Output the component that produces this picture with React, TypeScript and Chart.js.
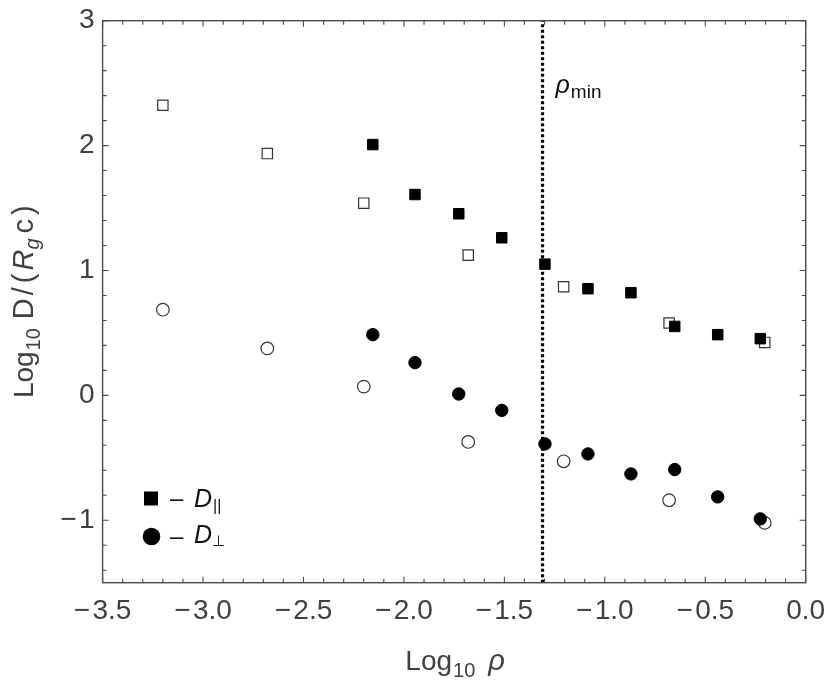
import React, { useEffect, useRef } from "react";
import { Chart, registerables } from "chart.js";

Chart.register(...registerables);

// ---- data ----
const X_MIN = -3.5;
const X_MAX = 0;
const Y_MIN = -1.5;
const Y_MAX = 3;
const X_TICKS = [-3.5, -3.0, -2.5, -2.0, -1.5, -1.0, -0.5, 0.0];
const Y_TICKS = [-1, 0, 1, 2, 3];
const X_MINOR_STEP = 0.1;
const Y_MINOR_STEP = 0.2;

// open markers
const OPEN_RHO = [-3.2, -2.68, -2.2, -1.68, -1.205, -0.68, -0.204];
const OPEN_PAR = [2.323, 1.936, 1.539, 1.123, 0.87, 0.579, 0.424];
const OPEN_PERP = [0.686, 0.376, 0.07, -0.373, -0.528, -0.84, -1.021];

// filled markers
const FILLED_RHO = [-2.155, -1.945, -1.727, -1.513, -1.298, -1.084, -0.87, -0.652, -0.438, -0.226];
const FILLED_PAR = [2.008, 1.608, 1.454, 1.262, 1.051, 0.854, 0.822, 0.552, 0.486, 0.454];
const FILLED_PERP = [0.486, 0.262, 0.011, -0.12, -0.389, -0.469, -0.629, -0.594, -0.813, -0.989];

const RHO_MIN = -1.31;

const FONT = "'Liberation Sans', Arial, Helvetica, sans-serif";
const TEXT = "#404040";
const FRAME = "#4a4a4a";

type Run = { t: string; size: number; italic?: boolean; dy?: number; dx?: number };

function fontOf(r: Run) {
  return `${r.italic ? "italic " : ""}${r.size}px ${FONT}`;
}
function runsWidth(ctx: CanvasRenderingContext2D, runs: Run[]) {
  let w = 0;
  for (const r of runs) {
    ctx.font = fontOf(r);
    w += ctx.measureText(r.t).width + (r.dx || 0);
  }
  return w;
}
function drawRuns(ctx: CanvasRenderingContext2D, runs: Run[], x: number, y: number, center: boolean) {
  let cx = center ? x - runsWidth(ctx, runs) / 2 : x;
  ctx.textAlign = "left";
  ctx.textBaseline = "alphabetic";
  for (const r of runs) {
    ctx.font = fontOf(r);
    cx += r.dx || 0;
    ctx.fillText(r.t, cx, y + (r.dy || 0));
    cx += ctx.measureText(r.t).width;
  }
}

function fmt(v: number, digits: number) {
  const s = Math.abs(v).toFixed(digits);
  return v < -1e-9 ? "\u2212\u200a" + s : s;
}

const decor = {
  id: "decor",
  afterDraw(chart: any) {
    const ctx: CanvasRenderingContext2D = chart.ctx;
    const a = chart.chartArea;
    const xs = chart.scales.x;
    const ys = chart.scales.y;
    ctx.save();
    // frame
    ctx.strokeStyle = FRAME;
    ctx.lineWidth = 1.4;
    ctx.strokeRect(a.left, a.top, a.right - a.left, a.bottom - a.top);
    // x ticks (bottom and top, inward)
    ctx.lineWidth = 1.1;
    ctx.beginPath();
    const nx = Math.round((X_MAX - X_MIN) / X_MINOR_STEP);
    for (let i = 0; i <= nx; i++) {
      const v = X_MIN + i * X_MINOR_STEP;
      const px = xs.getPixelForValue(v);
      const len = i % 5 === 0 ? 6 : 4;
      ctx.moveTo(px, a.bottom);
      ctx.lineTo(px, a.bottom - len);
      ctx.moveTo(px, a.top);
      ctx.lineTo(px, a.top + len);
    }
    // y ticks (left and right, inward)
    const y0 = Math.ceil(Y_MIN / Y_MINOR_STEP) * Y_MINOR_STEP;
    const ny = Math.round((Y_MAX - y0) / Y_MINOR_STEP);
    for (let i = 0; i <= ny; i++) {
      const v = y0 + i * Y_MINOR_STEP;
      const py = ys.getPixelForValue(v);
      const major = Math.abs(v - Math.round(v)) < 1e-6;
      const len = major ? 6 : 4;
      ctx.moveTo(a.left, py);
      ctx.lineTo(a.left + len, py);
      ctx.moveTo(a.right, py);
      ctx.lineTo(a.right - len, py);
    }
    ctx.stroke();

    ctx.fillStyle = TEXT;
    // x title
    drawRuns(
      ctx,
      [
        { t: "Log", size: 28 },
        { t: "10", size: 20, dy: 7, dx: 1 },
        { t: "\u03c1", size: 29, italic: true, dx: 13 },
      ],
      (a.left + a.right) / 2 + 1,
      670,
      true
    );
    // y title (rotated)
    ctx.save();
    ctx.translate(33, (a.top + a.bottom) / 2);
    ctx.rotate(-Math.PI / 2);
    drawRuns(
      ctx,
      [
        { t: "Log", size: 28 },
        { t: "10", size: 20, dy: 7, dx: 1 },
        { t: "D", size: 29, dx: 9 },
        { t: "/", size: 29, dx: 3 },
        { t: "(", size: 29, dx: 4 },
        { t: "R", size: 29, italic: true, dx: 3 },
        { t: "g", size: 20, italic: true, dy: 6 },
        { t: "c", size: 29, dx: 5 },
        { t: ")", size: 29, dx: 4 },
      ],
      0,
      0,
      true
    );
    ctx.restore();

    // rho_min label
    ctx.fillStyle = "#111";
    const lx = xs.getPixelForValue(RHO_MIN) + 13;
    drawRuns(
      ctx,
      [
        { t: "\u03c1", size: 25, italic: true },
        { t: "min", size: 19, dy: 5, dx: 1 },
      ],
      lx,
      a.top + 72,
      false
    );

    // legend
    ctx.fillStyle = "#000";
    ctx.fillRect(144, 491.5, 14, 14);
    ctx.beginPath();
    ctx.arc(151.5, 536.5, 8.8, 0, Math.PI * 2);
    ctx.fill();
    ctx.fillStyle = "#111";
    drawRuns(ctx, [{ t: "\u2013", size: 24 }], 170, 506, false);
    drawRuns(
      ctx,
      [
        { t: "D", size: 25, italic: true },
        { t: "||", size: 16, dy: 4, dx: 1 },
      ],
      194,
      507,
      false
    );
    drawRuns(ctx, [{ t: "\u2013", size: 24 }], 170, 544, false);
    drawRuns(
      ctx,
      [
        { t: "D", size: 25, italic: true },
        { t: "\u22a5", size: 15, dy: 3, dx: 0 },
      ],
      194,
      543,
      false
    );
    ctx.restore();
  },
};

function pts(xs: number[], ys: number[]) {
  return xs.map((x, i) => ({ x, y: ys[i] }));
}

export default function App() {
  const ref = useRef<HTMLCanvasElement | null>(null);
  useEffect(() => {
    if (!ref.current) return;
    const chart = new Chart(ref.current, {
      type: "scatter",
      data: {
        datasets: [
          {
            type: "line",
            label: "rho_min",
            data: [
              { x: RHO_MIN, y: Y_MIN },
              { x: RHO_MIN, y: Y_MAX },
            ],
            borderColor: "#000",
            borderWidth: 3.2,
            borderDash: [3, 2.5],
            pointRadius: 0,
            order: 3,
          } as any,
          {
            label: "open par",
            data: pts(OPEN_RHO, OPEN_PAR),
            pointStyle: "rect",
            pointRadius: 7.3,
            backgroundColor: "#fff",
            borderColor: "#333",
            borderWidth: 1.2,
            order: 2,
          },
          {
            label: "open perp",
            data: pts(OPEN_RHO, OPEN_PERP),
            pointStyle: "circle",
            pointRadius: 6.3,
            backgroundColor: "#fff",
            borderColor: "#333",
            borderWidth: 1.2,
            order: 2,
          },
          {
            label: "D par",
            data: pts(FILLED_RHO, FILLED_PAR),
            pointStyle: "rect",
            pointRadius: 7.4,
            backgroundColor: "#000",
            borderColor: "#000",
            borderWidth: 1,
            order: 1,
          },
          {
            label: "D perp",
            data: pts(FILLED_RHO, FILLED_PERP),
            pointStyle: "circle",
            pointRadius: 6.2,
            backgroundColor: "#000",
            borderColor: "#000",
            borderWidth: 1,
            order: 1,
          },
        ],
      },
      options: {
        animation: false,
        responsive: false,
        maintainAspectRatio: false,
        layout: { padding: { top: 20.7, right: 24.3, left: 0, bottom: 0 } },
        plugins: { legend: { display: false }, tooltip: { enabled: false } },
        scales: {
          x: {
            type: "linear",
            min: X_MIN,
            max: X_MAX,
            afterBuildTicks: (s: any) => {
              s.ticks = X_TICKS.map((v) => ({ value: v }));
            },
            afterFit: (s: any) => {
              s.height = 100.3;
              s.paddingLeft = 0;
              s.paddingRight = 0;
            },
            grid: { display: false, drawTicks: false },
            border: { display: false },
            ticks: {
              autoSkip: false,
              maxRotation: 0,
              padding: 12,
              color: TEXT,
              font: { family: FONT, size: 28 },
              callback: (v: any) => fmt(Number(v), 1),
            },
          },
          y: {
            type: "linear",
            min: Y_MIN,
            max: Y_MAX,
            afterBuildTicks: (s: any) => {
              s.ticks = Y_TICKS.map((v) => ({ value: v }));
            },
            afterFit: (s: any) => {
              s.width = 102.6;
              s.paddingTop = 0;
              s.paddingBottom = 0;
            },
            grid: { display: false, drawTicks: false },
            border: { display: false },
            ticks: {
              autoSkip: false,
              padding: 8,
              color: TEXT,
              font: { family: FONT, size: 28 },
              callback: (v: any) => fmt(Number(v), 0),
            },
          },
        },
      },
      plugins: [decor],
    });
    return () => chart.destroy();
  }, []);
  return (
    <div style={{ position: "absolute", left: 0, top: 0, width: 830, height: 683, background: "#fff" }}>
      <canvas ref={ref} width={830} height={683} style={{ width: 830, height: 683, display: "block" }} />
    </div>
  );
}
